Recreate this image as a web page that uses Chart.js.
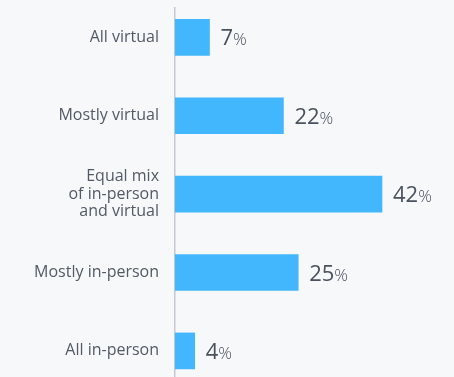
<!DOCTYPE html>
<html>
<head>
<meta charset="utf-8">
<script src="https://cdn.jsdelivr.net/npm/chart.js@4.4.1/dist/chart.umd.min.js"></script>
<style>
  html, body { margin: 0; padding: 0; background: #f7f8fa; overflow: hidden; }
  #wrap { width: 454px; height: 377px; position: relative; }
</style>
</head>
<body>
<div id="wrap"><canvas id="c"></canvas></div>
<script>
// Work arrangement preference shares
const categories = [
  ['All virtual'],
  ['Mostly virtual'],
  ['Equal mix', 'of in-person', 'and virtual'],
  ['Mostly in-person'],
  ['All in-person']
];
const values = [7, 22, 42, 25, 4];
const rowIndex = [0, 1, 2, 3, 4];

const BAR = '#42b7fd';
const LABEL = '#525a66';
const VALUE = '#4a525e';
const FONT = '"Open Sans", "Noto Sans", sans-serif';

// Writes "NN%" after each bar, with a smaller percent sign
const valueLabels = {
  id: 'valueLabels',
  afterDatasetsDraw(chart) {
    const ctx = chart.ctx;
    const meta = chart.getDatasetMeta(0);
    ctx.save();
    ctx.textBaseline = 'alphabetic';
    ctx.textAlign = 'left';
    meta.data.forEach((bar, i) => {
      const num = String(values[i]);
      const x = bar.x + 11;
      const y = bar.y + 8;
      ctx.fillStyle = VALUE;
      ctx.font = '400 22px ' + FONT;
      ctx.fillText(num, x, y);
      const w = ctx.measureText(num).width;
      ctx.font = '300 17px ' + FONT;
      ctx.fillText('%', x + w, y);
    });
    ctx.restore();
  }
};

new Chart(document.getElementById('c'), {
  type: 'bar',
  data: {
    datasets: [{
      data: values.map((v, i) => ({ x: v, y: rowIndex[i] })),
      backgroundColor: BAR,
      borderWidth: 0,
      barThickness: 36
    }]
  },
  options: {
    indexAxis: 'y',
    responsive: true,
    maintainAspectRatio: false,
    animation: false,
    layout: { padding: { top: 8, right: 3, bottom: 0, left: 0 } },
    plugins: { legend: { display: false }, tooltip: { enabled: false } },
    scales: {
      x: {
        type: 'linear',
        min: 0,
        max: 56,
        display: false
      },
      y: {
        type: 'linear',
        reverse: true,
        offset: false,
        grace: 0,
        min: -0.374,
        max: 4.333,
        afterBuildTicks(scale) {
          scale.ticks = rowIndex.map(v => ({ value: v }));
        },
        afterFit(scale) {
          scale.width = 175;
          scale.paddingTop = 0;
          scale.paddingBottom = 0;
        },
        grid: { display: false, drawTicks: false, offset: false },
        border: { display: true, color: '#c3c8ce', width: 1.5 },
        ticks: {
          padding: 16,
          color: LABEL,
          font: { family: FONT, size: 16, lineHeight: 1.1 },
          callback: (v) => categories[v] || ''
        }
      }
    }
  },
  plugins: [valueLabels]
});
</script>
</body>
</html>
